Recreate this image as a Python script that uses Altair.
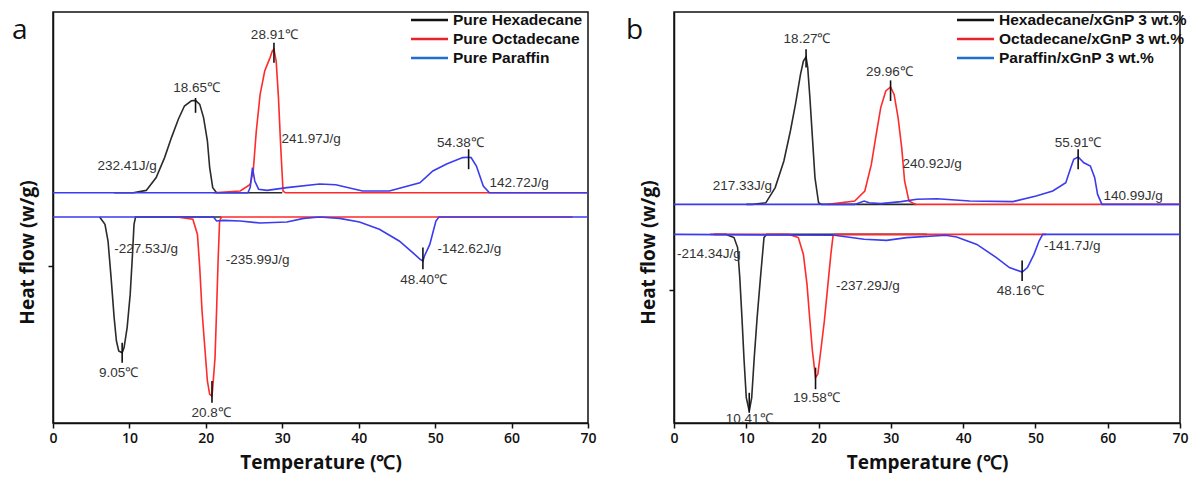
import altair as alt
import pandas as pd

# ---------------- Panel a : pure PCMs (heating curves on top, cooling below) -------------
a_hex_heat_T = [8.0, 10.5, 12.2, 13.5, 14.6, 15.5, 16.4, 17.2, 18.1, 18.65, 19.2, 19.7, 20.2, 20.5, 20.9, 21.4, 30.0]
a_hex_heat_v = [1.83, 1.83, 1.89, 2.21, 2.71, 3.21, 3.67, 4.00, 4.13, 4.14, 4.04, 3.71, 3.13, 2.46, 1.96, 1.83, 1.83]
a_oct_heat_T = [21.0, 24.5, 25.8, 26.2, 26.6, 27.1, 27.7, 28.4, 28.7, 28.91, 29.2, 29.5, 29.8, 30.1, 30.4, 70.0]
a_oct_heat_v = [1.83, 1.875, 2.04, 2.375, 3.375, 4.29, 4.875, 5.21, 5.375, 5.42, 5.125, 4.21, 2.96, 1.875, 1.83, 1.83]
a_par_heat_T = [0.0, 25.5, 25.8, 26.1, 26.4, 26.9, 28.0, 30.6, 34.9, 37.0, 40.5, 44.0, 48.0, 49.7, 51.5, 53.6, 54.38, 54.7, 55.4, 56.3, 57.1, 70.0]
a_par_heat_v = [1.83, 1.83, 1.96, 2.46, 2.125, 1.92, 1.89, 1.96, 2.05, 2.03, 1.875, 1.875, 2.08, 2.375, 2.55, 2.71, 2.72, 2.71, 2.5, 2.0, 1.83, 1.83]

a_hex_cool_T = [6.1, 6.8, 7.2, 7.6, 8.0, 8.3, 8.6, 9.05, 9.3, 9.7, 10.1, 10.4, 10.6, 10.8, 22.0]
a_hex_cool_v = [1.225, 1.04, 0.625, -0.29, -1.29, -1.875, -2.125, -2.17, -2.04, -1.54, -0.71, 0.29, 1.04, 1.225, 1.225]
a_oct_cool_T = [16.2, 18.3, 18.9, 19.2, 19.5, 19.9, 20.2, 20.5, 20.8, 20.9, 21.2, 21.4, 21.6, 21.8, 22.05, 68.0]
a_oct_cool_v = [1.225, 1.17, 0.79, -0.04, -1.125, -2.125, -2.875, -3.21, -3.25, -3.04, -2.29, -1.125, 0.125, 1.125, 1.225, 1.225]
a_par_cool_T = [0.0, 21.0, 21.4, 22.3, 24.5, 27.1, 30.6, 32.8, 34.9, 37.5, 40.1, 42.7, 45.3, 47.1, 48.0, 48.4, 48.6, 49.3, 49.7, 50.1, 50.5, 70.0]
a_par_cool_v = [1.225, 1.225, 1.125, 1.14, 1.125, 1.075, 1.1, 1.19, 1.225, 1.19, 1.1, 0.92, 0.625, 0.33, 0.17, 0.125, 0.25, 0.54, 0.83, 1.125, 1.225, 1.225]

a_legend = ["Pure Hexadecane", "Pure Octadecane", "Pure Paraffin"]
a_center_text = ["18.65\u2103", "28.91\u2103", "232.41J/g", "54.38\u2103", "9.05\u2103", "20.8\u2103", "48.40\u2103"]
a_center_T = [18.8, 28.95, 9.7, 53.3, 8.6, 20.7, 48.5]
a_center_v = [4.45, 5.78, 2.5, 3.08, -2.67, -3.67, -0.36]
a_left_text = ["241.97J/g", "142.72J/g", "-227.53J/g", "-235.99J/g", "-142.62J/g"]
a_left_T = [29.9, 57.1, 8.0, 22.6, 50.3]
a_left_v = [3.175, 2.08, 0.42, 0.14, 0.42]
a_peak_T = [18.65, 28.91, 54.38, 9.05, 20.8, 48.4]
a_peak_v1 = [4.2, 5.58, 2.92, -1.92, -2.875, 0.46]
a_peak_v2 = [3.83, 5.08, 2.42, -2.42, -3.42, -0.08]

# ---------------- Panel b : PCM / xGnP 3 wt.% composites ----------------
b_hex_heat_T = [10.0, 10.85, 12.7, 14.0, 15.2, 16.1, 16.8, 17.5, 17.9, 18.27, 18.5, 18.8, 19.15, 19.5, 20.0, 20.4, 33.5]
b_hex_heat_v = [2.14, 2.14, 2.18, 2.56, 3.225, 3.975, 4.64, 5.39, 5.725, 5.825, 5.56, 4.81, 3.81, 2.81, 2.18, 2.14, 2.14]
b_oct_heat_T = [21.3, 25.0, 26.4, 27.3, 27.9, 28.6, 29.3, 29.96, 30.45, 31.0, 31.5, 31.9, 32.5, 33.4, 70.0]
b_oct_heat_v = [2.14, 2.225, 2.475, 3.14, 3.81, 4.56, 4.975, 5.075, 4.89, 4.31, 3.56, 2.725, 2.225, 2.14, 2.14]
b_par_heat_T = [0.0, 25.0, 26.3, 27.0, 28.6, 31.4, 33.6, 36.4, 40.9, 46.9, 50.1, 52.4, 54.2, 54.9, 55.3, 55.91, 56.7, 57.6, 58.2, 58.6, 59.2, 70.0]
b_par_heat_v = [2.14, 2.14, 2.225, 2.18, 2.16, 2.21, 2.27, 2.28, 2.225, 2.21, 2.35, 2.475, 2.68, 3.06, 3.27, 3.325, 3.18, 3.1, 2.81, 2.39, 2.14, 2.14]

b_hex_cool_T = [5.5, 7.2, 8.3, 8.8, 9.1, 9.4, 9.7, 10.0, 10.41, 10.75, 11.1, 11.5, 12.0, 12.45, 12.8, 35.0]
b_hex_cool_v = [1.39, 1.39, 1.31, 1.06, 0.31, -0.69, -1.775, -2.69, -3.025, -2.69, -1.69, -0.69, 0.39, 1.31, 1.39, 1.39]
b_oct_cool_T = [5.0, 15.9, 17.2, 17.9, 18.4, 18.8, 19.15, 19.58, 19.9, 20.3, 20.8, 21.25, 21.7, 22.0, 22.2, 51.5]
b_oct_cool_v = [1.39, 1.39, 1.31, 0.89, 0.14, -0.775, -1.525, -2.19, -2.1, -1.525, -0.775, 0.06, 0.89, 1.35, 1.39, 1.39]
b_par_cool_T = [0.0, 22.2, 24.0, 26.3, 29.4, 32.2, 37.6, 39.1, 41.9, 44.6, 46.4, 48.16, 48.9, 49.8, 50.5, 51.0, 70.0]
b_par_cool_v = [1.39, 1.37, 1.325, 1.27, 1.24, 1.31, 1.37, 1.325, 1.14, 0.81, 0.56, 0.45, 0.56, 0.89, 1.225, 1.39, 1.39]

b_legend = ["Hexadecane/xGnP 3 wt.%", "Octadecane/xGnP 3 wt.%", "Paraffin/xGnP 3 wt.%"]
b_center_text = ["18.27\u2103", "29.96\u2103", "217.33J/g", "55.91\u2103", "10.41\u2103", "19.58\u2103", "48.16\u2103"]
b_center_T = [18.4, 29.8, 9.45, 55.9, 10.4, 19.7, 47.9]
b_center_v = [6.27, 5.46, 2.6, 3.68, -3.23, -2.69, -0.025]
b_left_text = ["240.92J/g", "140.99J/g", "-214.34J/g", "-237.29J/g", "-141.7J/g"]
b_left_T = [31.6, 59.4, 0.4, 22.4, 51.2]
b_left_v = [3.14, 2.35, 0.89, 0.1, 1.1]
b_peak_T = [18.27, 29.96, 55.91, 10.41, 19.58, 48.16]
b_peak_v1 = [6.02, 5.24, 3.52, -2.57, -1.94, 0.74]
b_peak_v2 = [5.56, 4.725, 3.02, -3.07, -2.48, 0.225]

LINE_COLORS = ["#2b2b2b", "#ff2a2a", "#3b3bef"]
LEGEND_COLORS = ["#111111", "#e8232a", "#1f6fcf"]
TXT = "#333333"
AX_FONT = "Open Sans"
ANN_FONT = "Liberation Sans"


def panel(curves, legend, ctext, cT, cv, ltext, lT, lv, pT, pv1, pv2,
          y_dom, width, letter, letter_x, leg_x):
    height = 411
    xs = alt.X("T:Q", scale=alt.Scale(domain=[0, 70], nice=False),
               axis=alt.Axis(values=list(range(0, 71, 5)),
                             labelExpr="datum.value % 10 === 0 ? datum.label : ''",
                             grid=False, tickSize=5, labelFlush=False,
                             labelFont=AX_FONT, labelFontSize=14, labelFontWeight=600,
                             labelPadding=3, title="Temperature (\u2103)",
                             titleFont=AX_FONT, titleFontSize=19, titleFontWeight="bold",
                             titlePadding=8))
    ys = alt.Y("v:Q", scale=alt.Scale(domain=y_dom, nice=False, zero=False),
               axis=alt.Axis(values=[0], labels=False, grid=False, tickSize=5,
                             title="Heat flow (w/g)", titleFont=AX_FONT,
                             titleFontSize=19, titleFontWeight="bold",
                             titlePadding=10, titleY=240))
    layers = []
    for i, (pair, col) in enumerate(zip(curves, LINE_COLORS)):
        rows = []
        for k, (T, v) in enumerate(pair):
            for j, (t, val) in enumerate(zip(T, v)):
                rows.append({"T": t, "v": val, "curve": f"c{k}", "i": j})
        df = pd.DataFrame(rows)
        layers.append(alt.Chart(df).mark_line(color=col, strokeWidth=1.6).encode(
            x=xs, y=ys, detail="curve:N", order="i:Q"))
    # peak markers
    pk = pd.DataFrame({"T": pT, "v": pv1, "v2": pv2})
    layers.append(alt.Chart(pk).mark_rule(color="#111111", strokeWidth=1.6).encode(
        x="T:Q", y="v:Q", y2="v2:Q"))
    # annotations
    cdf = pd.DataFrame({"T": cT, "v": cv, "t": ctext})
    layers.append(alt.Chart(cdf).mark_text(align="center", baseline="middle", font=ANN_FONT,
                                           fontSize=13.5, color=TXT).encode(x="T:Q", y="v:Q", text="t:N"))
    ldf = pd.DataFrame({"T": lT, "v": lv, "t": ltext})
    layers.append(alt.Chart(ldf).mark_text(align="left", baseline="middle", font=ANN_FONT,
                                           fontSize=13.5, color=TXT).encode(x="T:Q", y="v:Q", text="t:N"))
    # legend (drawn manually)
    for r, (lab, col) in enumerate(zip(legend, LEGEND_COLORS)):
        yy = 8 + 19 * r
        ldata = pd.DataFrame({"lab": [lab]})
        layers.append(alt.Chart(ldata).mark_rule(color=col, strokeWidth=2.5).encode(
            x=alt.value(leg_x), x2=alt.value(leg_x + 37), y=alt.value(yy)))
        layers.append(alt.Chart(ldata).mark_text(align="left", baseline="middle", font=ANN_FONT,
                                                 fontSize=15.5, fontWeight="bold", color="#111111").encode(
            x=alt.value(leg_x + 42), y=alt.value(yy), text="lab:N"))
    # panel letter
    layers.append(alt.Chart(pd.DataFrame({"l": [letter]})).mark_text(
        align="left", baseline="alphabetic", font=AX_FONT, fontSize=28, color="#111111").encode(
        x=alt.value(letter_x), y=alt.value(27), text="l:N"))
    return alt.layer(*layers).properties(width=width, height=height)


pa = panel([[(a_hex_heat_T, a_hex_heat_v), (a_hex_cool_T, a_hex_cool_v)],
            [(a_oct_heat_T, a_oct_heat_v), (a_oct_cool_T, a_oct_cool_v)],
            [(a_par_heat_T, a_par_heat_v), (a_par_cool_T, a_par_cool_v)]],
           a_legend, a_center_text, a_center_T, a_center_v, a_left_text, a_left_T, a_left_v,
           a_peak_T, a_peak_v1, a_peak_v2, [-3.925, 6.35], 535, "a", -41, 358)

pb = panel([[(b_hex_heat_T, b_hex_heat_v), (b_hex_cool_T, b_hex_cool_v)],
            [(b_oct_heat_T, b_oct_heat_v), (b_oct_cool_T, b_oct_cool_v)],
            [(b_par_heat_T, b_par_heat_v), (b_par_cool_T, b_par_cool_v)]],
           b_legend, b_center_text, b_center_T, b_center_v, b_left_text, b_left_T, b_left_v,
           b_peak_T, b_peak_v1, b_peak_v2, [-3.325, 6.95], 506, "b", -48, 283)

chart = alt.hconcat(pa, pb, spacing=86, bounds="flush").properties(
    padding={"left": 3, "top": 3, "right": 0, "bottom": 0}
).configure_view(stroke="#111111", strokeWidth=1.5).configure_axis(
    domainColor="#111111", tickColor="#111111", labelColor="#111111", titleColor="#111111",
    domainWidth=1.5, tickWidth=1.5)

chart.save("out.html", embed_options={"renderer": "svg", "actions": False})
